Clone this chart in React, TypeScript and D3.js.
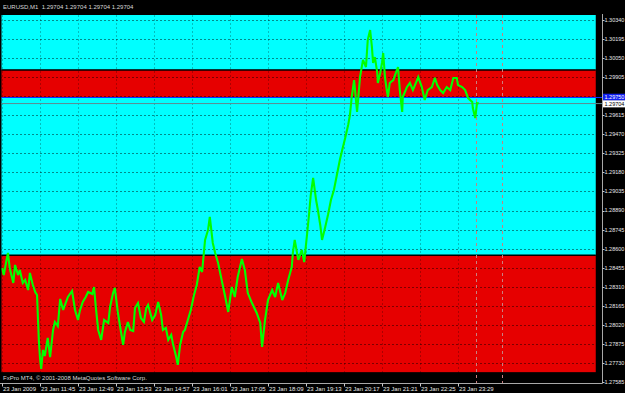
import React from 'react';
import * as d3 from 'd3';

// ---------- data ----------
const titleText = 'EURUSD,M1  1.29704 1.29704 1.29704 1.29704';
const copyrightText = 'FxPro MT4, © 2001-2008 MetaQuotes Software Corp.';

// minutes after 10:41 on 23 Jan 2009
const timeTickMinutes = [0, 64, 128, 192, 256, 320, 384, 448, 512, 576, 640, 704, 768];
const timeTickLabels = [
  '23 Jan 2009', '23 Jan 11:45', '23 Jan 12:49', '23 Jan 13:53', '23 Jan 14:57',
  '23 Jan 16:01', '23 Jan 17:05', '23 Jan 18:09', '23 Jan 19:13', '23 Jan 20:17',
  '23 Jan 21:21', '23 Jan 22:25', '23 Jan 23:29',
];

const priceTicks = [
  1.3034, 1.30195, 1.3005, 1.29905, 1.2976, 1.29615, 1.2947, 1.29325, 1.2918, 1.29035,
  1.2889, 1.28745, 1.286, 1.28455, 1.2831, 1.28165, 1.2802, 1.27875, 1.2773, 1.27585,
];

const minutes = [
  0, 3, 7, 10, 13, 19, 22, 27, 30, 35, 39, 44, 47, 52, 56, 59, 62, 64, 66, 69,
  72, 77, 81, 86, 89, 94, 98, 103, 106, 111, 118, 123, 128, 131, 136, 141, 145, 152, 155, 158,
  162, 167, 172, 179, 182, 187, 190, 195, 199, 204, 207, 212, 216, 221, 224, 229, 234, 239, 243, 246,
  253, 258, 263, 268, 271, 276, 280, 285, 288, 293, 296, 300, 305, 308, 313, 318, 323, 328, 333, 337,
  342, 347, 350, 355, 359, 364, 371, 376, 381, 387, 392, 397, 404, 409, 414, 421, 429, 435, 438, 443,
  448, 455, 460, 465, 472, 477, 482, 488, 490, 493, 499, 505, 509, 514, 517, 520, 524, 529, 532, 536,
  539, 544, 549, 554, 559, 564, 569, 573, 578, 583, 586, 589, 593, 598, 603, 608, 613, 616, 620, 623,
  625, 628, 632, 633, 637, 640, 642, 645, 648, 650, 653, 659, 665, 667, 670, 674, 675, 682, 687, 692,
  699, 701, 707, 712, 717, 724, 729, 733, 738, 743, 749, 755, 760, 766, 768, 775, 780, 785, 792, 793,
  797, 800, 803,
];
const prices = [
  1.28453, 1.28399, 1.28498, 1.28567, 1.28453, 1.28339, 1.28476, 1.28399, 1.28437, 1.28339,
  1.28361, 1.28285, 1.28415, 1.28323, 1.2827, 1.28247, 1.27905, 1.27768, 1.27684, 1.27829,
  1.27783, 1.2792, 1.27775, 1.27981, 1.28042, 1.28011, 1.28217, 1.28133, 1.28171, 1.28232,
  1.28278, 1.28133, 1.28057, 1.28125, 1.28194, 1.28232, 1.2827, 1.28255, 1.28308, 1.28156,
  1.27981, 1.27905, 1.28057, 1.28034, 1.28156, 1.28262, 1.28301, 1.28118, 1.28004, 1.27867,
  1.27966, 1.28042, 1.27981, 1.27973, 1.28148, 1.28186, 1.28072, 1.28042, 1.28148, 1.28171,
  1.28057, 1.28095, 1.28194, 1.28095, 1.27981, 1.27996, 1.27905, 1.27943, 1.27874, 1.27783,
  1.27715, 1.27867, 1.27966, 1.27981, 1.28057, 1.28133, 1.2824, 1.28323, 1.2846, 1.28422,
  1.28666, 1.28742, 1.28841, 1.28643, 1.28567, 1.28491, 1.28339, 1.28232, 1.28118, 1.28308,
  1.28232, 1.28384, 1.28521, 1.28437, 1.28262, 1.28186, 1.2811, 1.28034, 1.27852, 1.28057,
  1.28209, 1.28285, 1.28232, 1.28339, 1.28209, 1.28262, 1.28361, 1.2846, 1.28574, 1.28666,
  1.28514, 1.2859, 1.28498, 1.28719, 1.28856, 1.29008, 1.29138, 1.2897, 1.28894, 1.2878,
  1.28666, 1.28757, 1.28856, 1.2897, 1.29046, 1.2916, 1.29275, 1.29351, 1.29442, 1.29541,
  1.29617, 1.29754, 1.29883, 1.2964, 1.29906, 1.30036, 1.29982, 1.30188, 1.30264, 1.30135,
  1.30013, 1.30058, 1.29937, 1.29861, 1.29937, 1.30013, 1.30089, 1.29906, 1.29807, 1.29754,
  1.29861, 1.29883, 1.29959, 1.29982, 1.29807, 1.2964, 1.29754, 1.2983, 1.29861, 1.29807,
  1.29883, 1.29906, 1.2983, 1.29731, 1.29807, 1.2983, 1.29899, 1.29845, 1.29807, 1.29784,
  1.2983, 1.29807, 1.29899, 1.29899, 1.29845, 1.2983, 1.29807, 1.29746, 1.29716, 1.2967,
  1.29594, 1.29708, 1.29704,
];

const bidPrice = 1.29704;
const levelPrice = 1.2975;
const zoneTops = [1.306, 1.2996, 1.2975, 1.2855];
const zoneBottoms = [1.2996, 1.2975, 1.2855, 1.2766];
const zoneKinds = ['cyan', 'red', 'cyan', 'red'];
const zoneStartMinute = -20;
const zoneEndMinute = 1000;
const borderLevels = [1.2996, 1.2855];
const markerMinutes = [798, 842];

// ---------- styles ----------
const W = 625;
const H = 393;
const plotLeft = 0;
const plotRight = 602.5;
const plotTop = 15;
const plotBottom = 383.5;
const font = '"Liberation Sans", Arial, sans-serif';
const fs = 6;
const fsPrice = 5.5;
const zoneColor: Record<string, string> = { cyan: '#00ffff', red: '#e60000' };

export default function App() {
  const x = d3.scaleLinear().domain([0, 768]).range([2, 458]);
  const y = d3.scaleLinear().domain([1.27585, 1.3034]).range([382, 20]);

  const pts = minutes.map((m, i) => [m, prices[i]] as [number, number]);
  const line = d3
    .line<[number, number]>()
    .x((d) => x(d[0]))
    .y((d) => y(d[1]))(pts) as string;

  const fmt = d3.format('.5f');

  return (
    <svg
      width={W}
      height={H}
      style={{ position: 'absolute', left: 0, top: 0, display: 'block' }}
      fontFamily={font}
    >
      <defs>
        <clipPath id="plot">
          <rect x={plotLeft + 1.5} y={plotTop} width={plotRight - plotLeft - 1.5} height={plotBottom - plotTop} />
        </clipPath>
      </defs>
      <rect x={0} y={0} width={W} height={H} fill="#000" />

      <g clipPath="url(#plot)">
        {zoneTops.map((t, i) => (
          <rect
            key={'z' + i}
            x={x(zoneStartMinute)}
            y={y(t)}
            width={x(zoneEndMinute) - x(zoneStartMinute)}
            height={y(zoneBottoms[i]) - y(t)}
            fill={zoneColor[zoneKinds[i]]}
          />
        ))}

        {priceTicks.map((p, i) => (
          <line
            key={'gh' + i}
            x1={plotLeft}
            x2={plotRight}
            y1={Math.round(y(p)) + 0.5}
            y2={Math.round(y(p)) + 0.5}
            stroke="#000"
            strokeOpacity={0.45}
            strokeDasharray="2,2"
          />
        ))}
        {timeTickMinutes.map((m, i) => (
          <line
            key={'gv' + i}
            x1={Math.round(x(m)) + 0.5}
            x2={Math.round(x(m)) + 0.5}
            y1={plotTop}
            y2={plotBottom}
            stroke="#000"
            strokeOpacity={0.25}
            strokeDasharray="2,2"
          />
        ))}

        {borderLevels.map((p, i) => (
          <line
            key={'b' + i}
            x1={x(zoneStartMinute)}
            x2={x(zoneEndMinute)}
            y1={y(p)}
            y2={y(p)}
            stroke="#000"
            strokeWidth={1.6}
          />
        ))}

        <line x1={plotLeft} x2={plotRight} y1={y(levelPrice)} y2={y(levelPrice)} stroke="#1030ff" strokeWidth={1.2} />
        <line x1={plotLeft} x2={plotRight} y1={y(bidPrice)} y2={y(bidPrice)} stroke="#5f8890" strokeWidth={1} />

        {markerMinutes.map((m, i) => (
          <line
            key={'vm' + i}
            x1={Math.round(x(m)) + 0.5}
            x2={Math.round(x(m)) + 0.5}
            y1={plotTop}
            y2={plotBottom}
            stroke="#c88080"
            strokeDasharray="3,3"
          />
        ))}

        <path d={line} fill="none" stroke="#00ff00" strokeWidth={2.1} strokeLinejoin="miter" strokeMiterlimit={3} />
      </g>

      {/* axes */}
      <line x1={plotRight} x2={plotRight} y1={plotTop - 1} y2={plotBottom} stroke="#a8a8a8" />
      <line x1={plotLeft} x2={plotRight} y1={plotBottom} y2={plotBottom} stroke="#a8a8a8" />

      {priceTicks.map((p, i) => (
        <g key={'pl' + i}>
          <line x1={plotRight} x2={plotRight + 2} y1={Math.round(y(p)) + 0.5} y2={Math.round(y(p)) + 0.5} stroke="#c8c8c8" />
          <text x={604.5} y={y(p)} dy="0.35em" fontSize={fsPrice} fill="#e8e8e8">
            {fmt(p)}
          </text>
        </g>
      ))}

      {timeTickMinutes.map((m, i) => (
        <g key={'tl' + i}>
          <line x1={Math.round(x(m)) + 0.5} x2={Math.round(x(m)) + 0.5} y1={plotBottom} y2={plotBottom + 3} stroke="#c8c8c8" />
          <text x={x(m) + 1} y={391} fontSize={fs} fill="#e8e8e8">
            {timeTickLabels[i]}
          </text>
        </g>
      ))}

      {/* price boxes */}
      <rect x={603} y={y(levelPrice) - 3.8} width={22} height={7} fill="#1020f0" />
      <text x={604.5} y={y(levelPrice)} dy="0.35em" fontSize={fsPrice} fill="#ffffff">
        {fmt(levelPrice)}
      </text>
      <rect x={603} y={y(bidPrice) - 3.2} width={22} height={7} fill="#ffffff" />
      <text x={604.5} y={y(bidPrice) + 0.3} dy="0.35em" fontSize={fsPrice} fill="#000">
        {fmt(bidPrice)}
      </text>

      <text x={3} y={8.5} fontSize={fs} fill="#d8d8d8" xmlSpace="preserve">
        {titleText}
      </text>
      <text x={3} y={379.5} fontSize={fs} fill="#d8d8d8">
        {copyrightText}
      </text>
    </svg>
  );
}
